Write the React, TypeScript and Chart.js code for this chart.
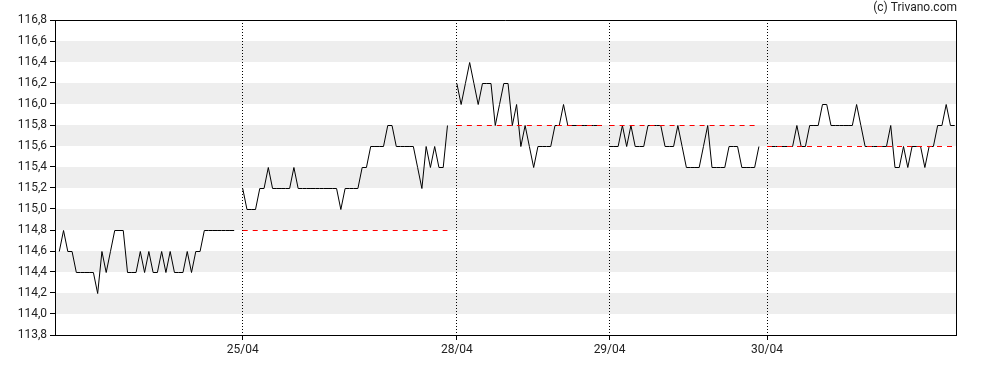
import { useEffect, useRef } from 'react';
import { Chart, registerables } from 'chart.js';

Chart.register(...registerables);

// x positions (time slots) where each trading day starts
const dayStarts = [1, 44, 94.2, 130, 166.9];
const xMax = 211.2;
const xTickLabels = ['25/04', '28/04', '29/04', '30/04'];

const yTickValues = [113.8, 114.0, 114.2, 114.4, 114.6, 114.8, 115.0, 115.2, 115.4, 115.6, 115.8, 116.0, 116.2, 116.4, 116.6, 116.8];

const day1 = [
  114.6, 114.8, 114.6, 114.6, 114.4, 114.4, 114.4, 114.4, 114.4, 114.2,
  114.6, 114.4, 114.6, 114.8, 114.8, 114.8, 114.4, 114.4, 114.4, 114.6,
  114.4, 114.6, 114.4, 114.4, 114.6, 114.4, 114.6, 114.4, 114.4, 114.4,
  114.6, 114.4, 114.6, 114.6, 114.8, 114.8, 114.8, 114.8, 114.8, 114.8,
  114.8, 114.8,
];
const day2 = [
  115.2, 115.0, 115.0, 115.0, 115.2, 115.2, 115.4, 115.2, 115.2, 115.2,
  115.2, 115.2, 115.4, 115.2, 115.2, 115.2, 115.2, 115.2, 115.2, 115.2,
  115.2, 115.2, 115.2, 115.0, 115.2, 115.2, 115.2, 115.2, 115.4, 115.4,
  115.6, 115.6, 115.6, 115.6, 115.8, 115.8, 115.6, 115.6, 115.6, 115.6,
  115.6, 115.4, 115.2, 115.6, 115.4, 115.6, 115.4, 115.4, 115.8,
];
const day3 = [
  116.2, 116.0, 116.2, 116.4, 116.2, 116.0, 116.2, 116.2, 116.2, 115.8,
  116.0, 116.2, 116.2, 115.8, 116.0, 115.6, 115.8, 115.6, 115.4, 115.6,
  115.6, 115.6, 115.6, 115.8, 115.8, 116.0, 115.8, 115.8, 115.8, 115.8,
  115.8, 115.8, 115.8, 115.8, 115.8,
];
const day4 = [
  115.6, 115.6, 115.6, 115.8, 115.6, 115.8, 115.6, 115.6, 115.6, 115.8,
  115.8, 115.8, 115.8, 115.6, 115.6, 115.6, 115.8, 115.6, 115.4, 115.4,
  115.4, 115.4, 115.6, 115.8, 115.4, 115.4, 115.4, 115.4, 115.6, 115.6,
  115.6, 115.4, 115.4, 115.4, 115.4, 115.6,
];
const day5 = [
  115.6, 115.6, 115.6, 115.6, 115.6, 115.6, 115.6, 115.8, 115.6, 115.6,
  115.8, 115.8, 115.8, 116.0, 116.0, 115.8, 115.8, 115.8, 115.8, 115.8,
  115.8, 116.0, 115.8, 115.6, 115.6, 115.6, 115.6, 115.6, 115.6, 115.8,
  115.4, 115.4, 115.6, 115.4, 115.6, 115.6, 115.6, 115.4, 115.6, 115.6,
  115.8, 115.8, 116.0, 115.8, 115.8,
];
const days = [day1, day2, day3, day4, day5];
// previous close reference level per day
const refLevels = [null, 114.8, 115.8, 115.8, 115.6];

const FONT = { family: 'Roboto', size: 12 };
const TEXT_COLOR = '#222';

const bandsPlugin = {
  id: 'bands',
  beforeDraw(chart: any) {
    const { ctx, chartArea, scales } = chart;
    const y = scales.y;
    ctx.save();
    ctx.fillStyle = '#eeeeee';
    for (let i = 1; i < yTickValues.length - 1; i += 2) {
      const top = Math.round(y.getPixelForValue(yTickValues[i + 1]));
      const bottom = Math.round(y.getPixelForValue(yTickValues[i]));
      ctx.fillRect(chartArea.left, top, chartArea.right - chartArea.left, bottom - top);
    }
    ctx.restore();
  },
  beforeDatasetsDraw(chart: any) {
    chart.ctx.save();
    chart.ctx.translate(0, 0.5);
  },
  afterDatasetsDraw(chart: any) {
    chart.ctx.restore();
  },
  afterDraw(chart: any) {
    const { ctx, chartArea } = chart;
    ctx.save();
    ctx.strokeStyle = '#000';
    ctx.lineWidth = 1;
    ctx.beginPath();
    ctx.moveTo(chartArea.left, Math.round(chartArea.top) + 0.5);
    ctx.lineTo(chartArea.right + 0.5, Math.round(chartArea.top) + 0.5);
    ctx.lineTo(chartArea.right + 0.5, chartArea.bottom);
    ctx.stroke();
    ctx.fillStyle = TEXT_COLOR;
    ctx.font = '12px Roboto';
    ctx.textAlign = 'right';
    ctx.textBaseline = 'middle';
    ctx.fillText('(c) Trivano.com', 957, 8);
    ctx.restore();
  },
};

export default function App() {
  const ref = useRef<HTMLCanvasElement | null>(null);
  useEffect(() => {
    if (!ref.current) return;
    const datasets: any[] = [];
    days.forEach((vals, d) => {
      const lvl = refLevels[d];
      if (lvl !== null) {
        datasets.push({
          data: [
            { x: dayStarts[d], y: lvl },
            { x: dayStarts[d] + vals.length - 1, y: lvl },
          ],
          borderColor: '#ff0000',
          borderWidth: 1,
          borderDash: [5, 5],
          pointRadius: 0,
          order: 0,
        });
      }
    });
    days.forEach((vals, d) => {
      datasets.push({
        data: vals.map((v, i) => ({ x: dayStarts[d] + i, y: v })),
        borderColor: '#000',
        borderWidth: 1,
        pointRadius: 0,
        tension: 0,
        order: 1,
      });
    });
    const chart = new Chart(ref.current, {
      type: 'line',
      data: { datasets },
      plugins: [bandsPlugin],
      options: {
        animation: false,
        responsive: false,
        devicePixelRatio: 1,
        layout: { padding: { top: 20, right: 32, left: 0, bottom: 0 } },
        plugins: { legend: { display: false }, tooltip: { enabled: false }, title: { display: false } },
        scales: {
          x: {
            type: 'linear',
            min: 0,
            max: xMax,
            afterBuildTicks: (s: any) => {
              s.ticks = dayStarts.slice(1).map((v) => ({ value: v }));
            },
            afterFit: (s: any) => {
              s.height = 35;
            },
            ticks: {
              autoSkip: false,
              maxRotation: 0,
              padding: 3,
              font: FONT,
              color: TEXT_COLOR,
              callback: (_v: any, i: number) => xTickLabels[i],
            },
            grid: {
              color: '#000',
              lineWidth: 1,
              tickLength: 5,
              tickColor: '#000',
              tickBorderDash: [],
            },
            border: { display: true, color: '#000', dash: [1, 2] },
          },
          y: {
            min: 113.8,
            max: 116.8,
            afterBuildTicks: (s: any) => {
              s.ticks = yTickValues.map((v) => ({ value: v }));
            },
            afterFit: (s: any) => {
              s.width = 55;
            },
            ticks: {
              padding: 3,
              font: FONT,
              color: TEXT_COLOR,
              callback: (v: any) => Number(v).toFixed(1).replace('.', ','),
            },
            grid: { drawOnChartArea: false, tickLength: 5, color: '#000', tickColor: '#000' },
            border: { display: true, color: '#000' },
          },
        },
      },
    });
    return () => chart.destroy();
  }, []);
  return (
    <div style={{ position: 'fixed', left: 0, top: 0, width: 988, height: 370, background: '#fff' }}>
      <canvas ref={ref} width={988} height={370} style={{ display: 'block' }} />
    </div>
  );
}
